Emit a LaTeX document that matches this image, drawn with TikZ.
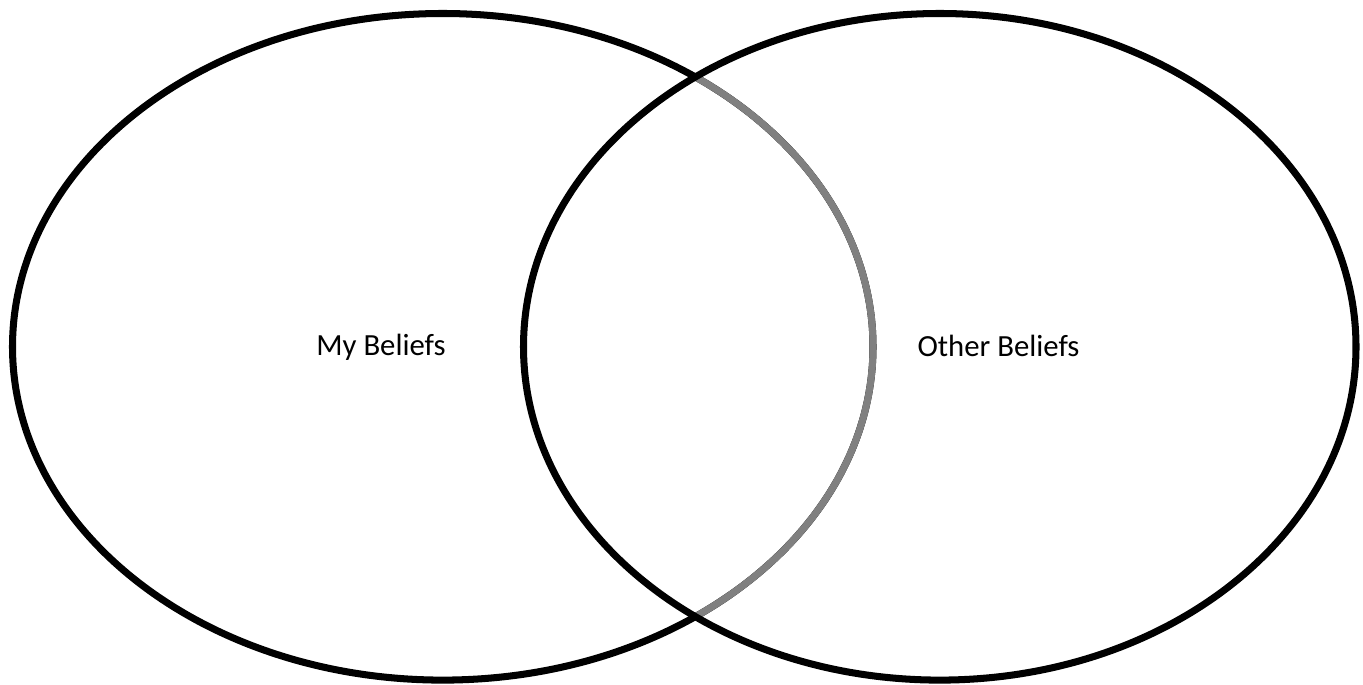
\documentclass[tikz,border=0pt]{standalone}
\usepackage{fontspec}
\setmainfont{Carlito}
\usepackage{tikz}
\usetikzlibrary{positioning}

\tikzset{
    ring/.style={draw=black, line width=4pt},
    label/.style={font=\fontsize{17.5}{21}\selectfont, anchor=base, inner sep=0pt}
}

\begin{document}
\begin{tikzpicture}[x=0.02cm, y=-0.02cm]
    \useasboundingbox (0, 0) rectangle (1363, 685);

    % left set, the part inside the right set is grey
    \draw[ring] (442.75, 346.8) ellipse [x radius=430.25, y radius=333.3];
    \begin{scope}
        \clip (939.75, 346.8) ellipse [x radius=416.25, y radius=333.3];
        \draw[ring, draw=gray] (442.75, 346.8) ellipse [x radius=430.25, y radius=333.3];
    \end{scope}
    % right set
    \draw[ring] (939.75, 346.8) ellipse [x radius=416.25, y radius=333.3];

    \node[label] (mine) at (381, 356) {My Beliefs};
    \node[label] (other) at (998.5, 356.5) {Other Beliefs};
\end{tikzpicture}
\end{document}
